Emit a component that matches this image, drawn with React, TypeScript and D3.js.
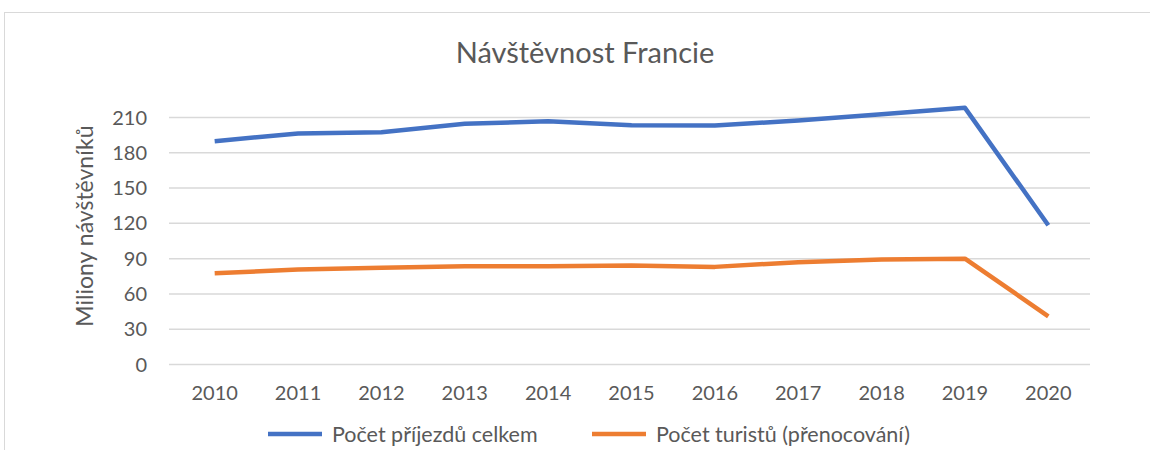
import * as d3 from "d3";
import React from "react";

const years = ["2010", "2011", "2012", "2013", "2014", "2015", "2016", "2017", "2018", "2019", "2020"];
const arrivals = [189.9, 196.4, 197.5, 204.6, 206.9, 203.5, 203.2, 207.4, 212.7, 218.2, 118.4];
const tourists = [77.5, 80.8, 82.2, 83.6, 83.6, 84.2, 83.0, 87.0, 89.2, 90.0, 41.0];
const yTicks = [0, 30, 60, 90, 120, 150, 180, 210];

const seriesList = [
  { name: "Počet příjezdů celkem", values: arrivals, color: "#4472C4" },
  { name: "Počet turistů (přenocování)", values: tourists, color: "#ED7D31" },
];

const width = 1150;
const height = 450;
const font = "Lato, 'Noto Sans', sans-serif";
const textColor = "#595959";

export default function App() {
  const x = d3.scalePoint<string>().domain(years).range([173, 1090]).padding(0.5);
  const y = d3.scaleLinear().domain([0, 210]).range([364.5, 117.5]);

  const line = d3
    .line<number>()
    .x((_, i) => x(years[i]) as number)
    .y((d) => y(d));

  // legend placement
  const legendX = [268, 592];

  return (
    <svg
      width={width}
      height={height}
      style={{ position: "absolute", left: 0, top: 0, background: "#fff" }}
      fontFamily={font}
    >
      <rect x={4.5} y={12.5} width={1200} height={500} fill="#fff" stroke="#d9d9d9" />
      <text x={585} y={63} textAnchor="middle" fontSize={29} fill={textColor}>
        Návštěvnost Francie
      </text>

      {/* grid + y labels */}
      {yTicks.map((t) => (
        <g key={t}>
          <line x1={169} x2={1090} y1={y(t)} y2={y(t)} stroke="#d9d9d9" strokeWidth={1.5} />
          <text x={147} y={y(t)} dy="0.35em" textAnchor="end" fontSize={20} fill={textColor}>
            {t}
          </text>
        </g>
      ))}

      {/* x labels */}
      {years.map((yr) => (
        <text key={yr} x={x(yr)} y={400} textAnchor="middle" fontSize={20} fill={textColor}>
          {yr}
        </text>
      ))}

      <text
        transform={`translate(93,226) rotate(-90)`}
        textAnchor="middle"
        fontSize={23}
        fill={textColor}
      >
        Miliony návštěvníků
      </text>

      {seriesList.map((s) => (
        <path
          key={s.name}
          d={line(s.values) ?? ""}
          fill="none"
          stroke={s.color}
          strokeWidth={4.5}
          strokeLinejoin="round"
        />
      ))}

      {seriesList.map((s, i) => (
        <g key={s.name} transform={`translate(${legendX[i]},434)`}>
          <line x1={0} x2={54} y1={0} y2={0} stroke={s.color} strokeWidth={4.5} />
          <text x={64} y={0} dy="0.35em" fontSize={21.5} fill={textColor}>
            {s.name}
          </text>
        </g>
      ))}
    </svg>
  );
}
